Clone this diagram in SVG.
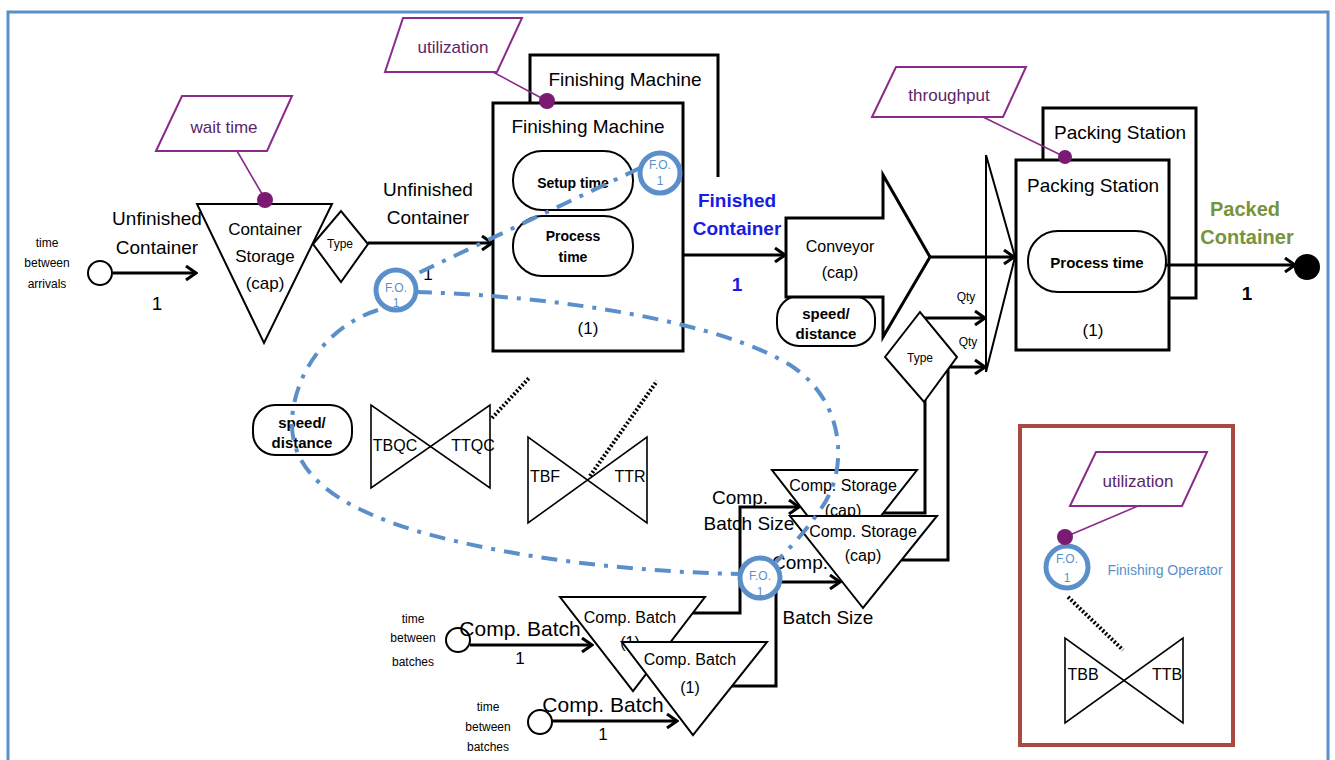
<svg xmlns="http://www.w3.org/2000/svg" width="1335" height="760" viewBox="0 0 1335 760">
<defs>
<style>
text{font-family:"Liberation Sans",Arial,sans-serif;text-anchor:middle;fill:#000}
.t19{font-size:19px}.t17{font-size:17px}.t16{font-size:16px}.t12{font-size:12px}.t14{font-size:14px}.t21{font-size:21px}
.b{font-weight:bold}
.box{fill:#fff;stroke:#000;stroke-width:3}
.tri{fill:#fff;stroke:#000;stroke-width:2}
.pill{fill:#fff;stroke:#000;stroke-width:2}
.bow{fill:none;stroke:#000;stroke-width:1.6}
.para{fill:#fff;stroke:#8a2a8a;stroke-width:2}
.ptxt{fill:#5a2668;font-size:17px}
.pl{stroke:#8a2a8a;stroke-width:1.6;fill:none}
.dot{fill:#7a1a72}
.flow{fill:none;stroke:#000;stroke-width:3}
.arr{fill:none;stroke:#000;stroke-width:3;marker-end:url(#ah)}
.fo{fill:#fff;stroke:#5b8fc9;stroke-width:5}
.fotxt{fill:#5b8fc9;font-size:12px}
.dash{fill:none;stroke:#5b8fc9;stroke-width:4;stroke-dasharray:16,9,4,9}
.dotl{stroke:#000;stroke-width:4;stroke-dasharray:2,2;fill:none}
</style>
<marker id="ah" markerWidth="14" markerHeight="16" refX="12" refY="8" orient="auto" markerUnits="userSpaceOnUse"><path d="M2,1 L12,8 L2,15" fill="none" stroke="#000" stroke-width="3"/></marker>
</defs>
<rect x="0" y="0" width="1335" height="760" fill="#fff"/>
<rect x="8" y="12" width="1320" height="770" fill="none" stroke="#5b8fc9" stroke-width="3"/>

<g id="arrivals">
<text class="t12" x="47" y="247">time</text>
<text class="t12" x="47" y="267">between</text>
<text class="t12" x="47" y="288">arrivals</text>
<circle cx="100" cy="273" r="12" fill="#fff" stroke="#000" stroke-width="2"/>
</g>

<g id="waittime">
<polygon class="para" points="156,151 182,96 292,96 267,151"/>
<text class="ptxt" x="224" y="133">wait time</text>
</g>

<g id="containerStorage">
<polygon class="tri" points="197,204 332,204 264,343"/>
<text class="t17" x="265" y="235">Container</text>
<text class="t17" x="265" y="262">Storage</text>
<text class="t17" x="265" y="289">(cap)</text>
</g>

<g id="type1">
<polygon class="tri" points="313,244 341,211 368,244 341,282" stroke-width="1.6"/>
<text class="t12" x="340" y="248">Type</text>
</g>

<g id="finishingMachine">
<path class="box" d="M530,103 V55 H718 V177" fill="none"/>
<text class="t19" x="625" y="86">Finishing Machine</text>
<rect class="box" x="493" y="103" width="190" height="248"/>
<text class="t19" x="588" y="133">Finishing Machine</text>
<rect class="pill" x="513" y="151" width="120" height="59" rx="29"/>
<text class="t14 b" x="573" y="188">Setup time</text>
<rect class="pill" x="513" y="216" width="120" height="60" rx="29"/>
<text class="t14 b" x="573" y="241">Process</text>
<text class="t14 b" x="573" y="262">time</text>
<text class="t17" x="588" y="334">(1)</text>
</g>

<g id="utilization1">
<polygon class="para" points="385,72 403,18 522,18 497,72"/>
<text class="ptxt" x="453" y="53">utilization</text>
</g>

<g id="conveyor">
<rect class="pill" x="777" y="296" width="98" height="50" rx="22"/>
<text class="t14 b" x="826" y="319" style="font-size:15px">speed/</text>
<text class="t14 b" x="826" y="339" style="font-size:15px">distance</text>
<path class="box" d="M786,218 H883 V175 L930,257 L883,337 V297 H786 Z"/>
<text class="t16" x="840" y="252">Conveyor</text>
<text class="t16" x="840" y="278">(cap)</text>
</g>

<g id="throughput">
<polygon class="para" points="872,117 896,67 1026,67 1003,117"/>
<text class="ptxt" x="949" y="101">throughput</text>
</g>

<g id="join">
<polyline points="986,155 986,372" fill="none" stroke="#000" stroke-width="2"/>
<polyline points="986,155 1015,257 986,372" fill="none" stroke="#000" stroke-width="2"/>
</g>

<g id="packingStation">
<rect class="box" x="1043" y="108" width="153" height="190"/>
<text class="t19" x="1120" y="139">Packing Station</text>
<rect class="box" x="1016" y="160" width="153" height="190"/>
<text class="t19" x="1093" y="192">Packing Station</text>
<rect class="pill" x="1028" y="231" width="138" height="61" rx="30"/>
<text class="b" x="1097" y="268" style="font-size:15px">Process time</text>
<text class="t17" x="1093" y="336">(1)</text>
</g>

<g id="sink">
<circle cx="1307" cy="267" r="13" fill="#000"/>
</g>

<g id="speedDistance2">
<rect class="pill" x="253" y="405" width="99" height="50" rx="22"/>
<text class="b" x="302" y="428" style="font-size:15px">speed/</text>
<text class="b" x="302" y="448" style="font-size:15px">distance</text>
</g>

<g id="bowTBQC">
<path class="bow" d="M371,405 V488 L490,405 V488 Z"/>
<text class="t16" x="395" y="451">TBQC</text>
<text class="t16" x="473" y="451">TTQC</text>
</g>

<g id="bowTBF">
<path class="bow" d="M528,437 V523 L647,437 V523 Z"/>
<text class="t16" x="545" y="482">TBF</text>
<text class="t16" x="630" y="482">TTR</text>
</g>

<g id="batchSource1">
<text class="t12" x="413" y="623">time</text>
<text class="t12" x="413" y="642">between</text>
<text class="t12" x="413" y="666">batches</text>
<circle cx="458" cy="640" r="12" fill="#fff" stroke="#000" stroke-width="2"/>
</g>
<g id="batchSource2">
<text class="t12" x="488" y="711">time</text>
<text class="t12" x="488" y="731">between</text>
<text class="t12" x="488" y="751">batches</text>
<circle cx="540" cy="722" r="12" fill="#fff" stroke="#000" stroke-width="2"/>
</g>

<g id="connectors">
<line class="arr" x1="113" y1="273" x2="196" y2="273"/>
<line class="pl" x1="237" y1="151" x2="265" y2="199"/>
<line class="arr" x1="368" y1="243" x2="492" y2="243"/>
<line class="pl" x1="493" y1="72" x2="547" y2="101"/>
<line class="arr" x1="683" y1="255" x2="785" y2="255"/>
<line class="arr" x1="930" y1="257" x2="1014" y2="257"/>
<line class="pl" x1="983" y1="117" x2="1065" y2="157"/>
<line class="arr" x1="1166" y1="265" x2="1295" y2="265"/>
<line class="arr" x1="925" y1="318" x2="985" y2="318"/>
<polyline class="arr" points="902,560 948,560 948,367 985,367"/>
<polyline class="flow" points="883,513 925,513 925,400"/>
<polyline class="arr" points="693,613 740,613 740,507 799,507"/>
<polyline class="arr" points="728,686 776,686 776,582 840,582"/>
<line class="arr" x1="470" y1="645" x2="592" y2="645"/>
<line class="arr" x1="552" y1="721" x2="677" y2="721"/>
<line class="dotl" x1="492" y1="418" x2="530" y2="377"/>
<line class="dotl" x1="590" y1="476" x2="657" y2="381"/>
</g>

<g id="compStorage1">
<polygon class="tri" points="772,470 917,470 844,563"/>
<text class="t16" x="843" y="491">Comp. Storage</text>
<text class="t16" x="843" y="516">(cap)</text>
</g>
<g id="compStorage2">
<polygon class="tri" points="790,516 937,516 863,608"/>
<text class="t16" x="863" y="537">Comp. Storage</text>
<text class="t16" x="863" y="561">(cap)</text>
</g>

<g id="compBatch1">
<polygon class="tri" points="560,597 705,597 633,691"/>
<text class="t16" x="630" y="623">Comp. Batch</text>
<text class="t16" x="630" y="648">(1)</text>
</g>
<g id="compBatch2">
<polygon class="tri" points="622,642 767,642 693,735"/>
<text class="t16" x="690" y="665">Comp. Batch</text>
<text class="t16" x="690" y="693">(1)</text>
</g>

<g id="type2">
<polygon class="tri" points="885,357 920,312 957,357 924,402" stroke-width="1.6"/>
<text class="t12" x="920" y="362">Type</text>
</g>

<g id="labels">
<text class="t19" x="157" y="225">Unfinished</text>
<text class="t19" x="157" y="254">Container</text>
<text class="t19" x="157" y="310">1</text>
<text class="t19" x="428" y="196">Unfinished</text>
<text class="t19" x="428" y="224">Container</text>
<text class="t17" x="428" y="280">1</text>
<rect x="690" y="183" width="92" height="56" fill="#fff"/>
<text class="t19 b" x="737" y="207" fill="#1a1ae6" style="fill:#1a1ae6">Finished</text>
<text class="t19 b" x="737" y="235" style="fill:#1a1ae6">Container</text>
<text class="t19 b" x="737" y="291" style="fill:#1a1ae6">1</text>
<text class="b" x="1245" y="216" style="font-size:20px;fill:#77933c">Packed</text>
<text class="b" x="1247" y="244" style="font-size:20px;fill:#77933c">Container</text>
<text class="t19 b" x="1247" y="300">1</text>
<text class="t12" x="966" y="301">Qty</text>
<text class="t12" x="968" y="346">Qty</text>
<text class="t19" x="740" y="504">Comp.</text>
<text class="t19" x="749" y="530">Batch Size</text>
<text class="t19" x="800" y="569">Comp.</text>
<text class="t19" x="828" y="624">Batch Size</text>
<text class="t21" x="520" y="636">Comp. Batch</text>
<text class="t17" x="520" y="664">1</text>
<text class="t21" x="603" y="712">Comp. Batch</text>
<text class="t17" x="603" y="740">1</text>
</g>

<g id="operatorLinks">
<line class="dash" x1="640" y1="168" x2="412" y2="276"/>
<path class="dash" d="M416,292 C560,296 720,322 790,365 C845,400 850,470 820,510 C805,532 790,548 776,562"/>
<path class="dash" d="M378,310 C330,325 295,370 292,420 C290,470 330,505 420,532 C520,560 640,572 740,574"/>
</g>

<g id="foA">
<circle class="fo" cx="660" cy="173" r="20"/>
<text class="fotxt" x="660" y="169">F.O.</text>
<text class="fotxt" x="660" y="185">1</text>
</g>
<g id="foB">
<circle class="fo" cx="396" cy="290" r="20"/>
<text class="fotxt" x="396" y="292">F.O.</text>
<text class="fotxt" x="396" y="307">1</text>
</g>
<g id="foC">
<circle class="fo" cx="760" cy="578" r="20"/>
<text class="fotxt" x="760" y="580">F.O.</text>
<text class="fotxt" x="760" y="596">1</text>
</g>

<g id="dots">
<circle class="dot" cx="265" cy="200" r="8"/>
<circle class="dot" cx="547" cy="101" r="8"/>
<circle class="dot" cx="1065" cy="157" r="7"/>
</g>

<g id="operatorLegend">
<rect x="1020" y="426" width="213" height="319" fill="none" stroke="#a84a42" stroke-width="4"/>
<polygon class="para" points="1070,506 1096,452 1207,452 1182,506"/>
<text class="ptxt" x="1138" y="487">utilization</text>
<line class="pl" x1="1138" y1="506" x2="1065" y2="537"/>
<circle class="fo" cx="1067" cy="567" r="21"/>
<circle class="dot" cx="1065" cy="537" r="8"/>
<text class="fotxt" x="1067" y="563">F.O.</text>
<text class="fotxt" x="1067" y="582">1</text>
<text class="t14" x="1165" y="575" style="fill:#5b8fc9">Finishing Operator</text>
<line class="dotl" x1="1068" y1="597" x2="1123" y2="650"/>
<path class="bow" d="M1065,638 V723 L1183,638 V723 Z"/>
<text class="t16" x="1083" y="680">TBB</text>
<text class="t16" x="1167" y="680">TTB</text>
</g>
</svg>
